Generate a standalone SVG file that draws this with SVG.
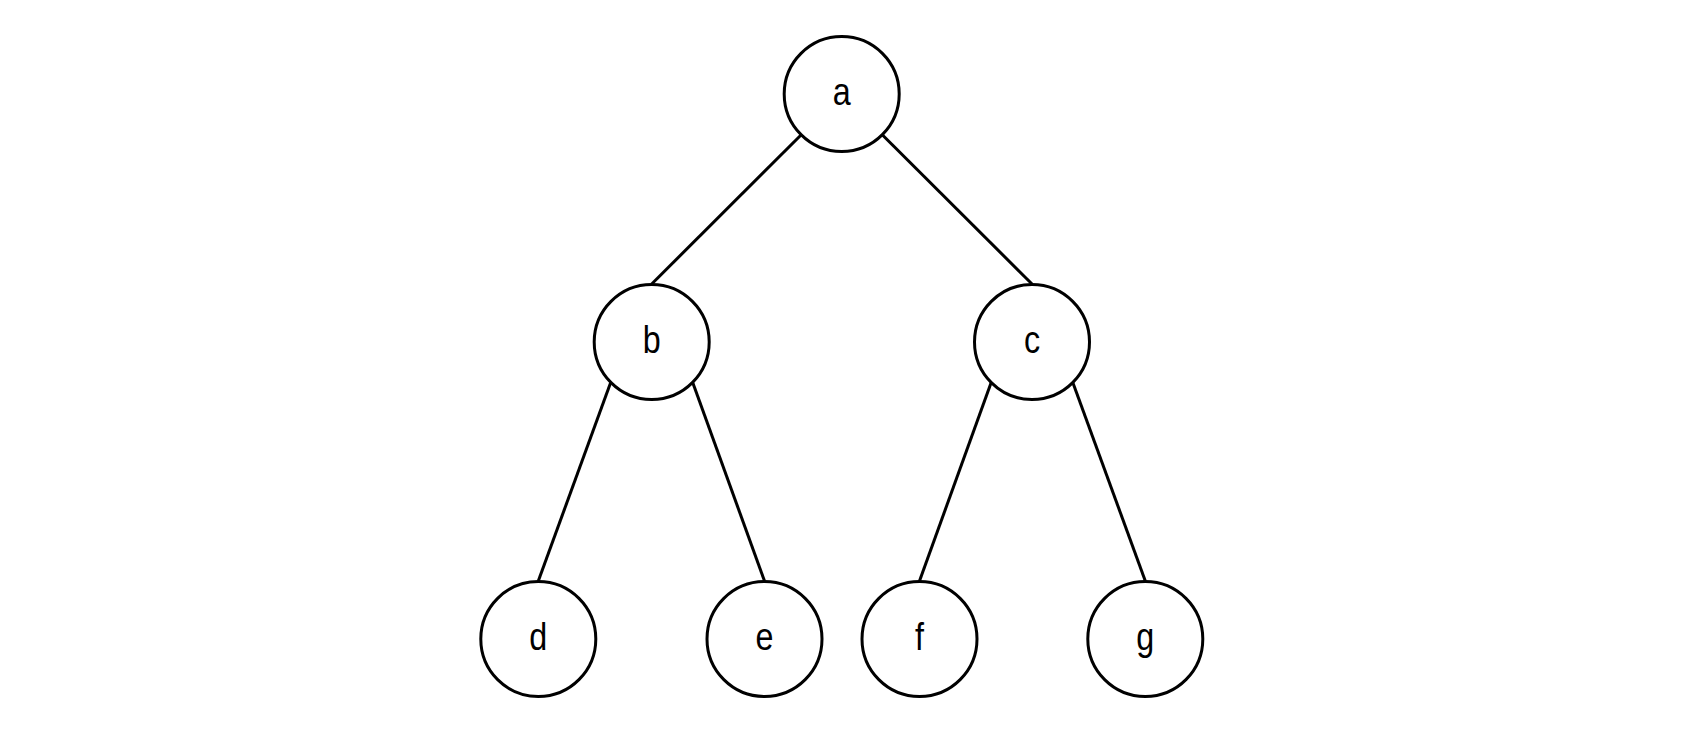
<svg xmlns="http://www.w3.org/2000/svg" width="1689" height="738" viewBox="0 0 1689 738">
<style>
.n{fill:#fff;stroke:#000;stroke-width:3}
.e{stroke:#000;stroke-width:3;fill:none}
.t{font-family:"Liberation Sans",Arial,sans-serif;font-size:38px;fill:#000;text-anchor:middle}
</style>
<rect width="1689" height="738" fill="#fff"/>
<g id="edges">
<line class="e" x1="801" y1="135" x2="651.7" y2="284"/>
<line class="e" x1="882.5" y1="135" x2="1032" y2="284"/>
<line class="e" x1="610.5" y1="383" x2="538.3" y2="581"/>
<line class="e" x1="692.9" y1="383" x2="764.5" y2="581"/>
<line class="e" x1="991" y1="383" x2="919.5" y2="581"/>
<line class="e" x1="1073" y1="383" x2="1145.3" y2="581"/>
</g>
<g id="node-a"><circle class="n" cx="841.7" cy="94" r="57.5"/><text class="t" transform="translate(841.7 105) scale(0.85 1)">a</text></g>
<g id="node-b"><circle class="n" cx="651.7" cy="342" r="57.5"/><text class="t" transform="translate(651.7 353) scale(0.85 1)">b</text></g>
<g id="node-c"><circle class="n" cx="1032" cy="342" r="57.5"/><text class="t" transform="translate(1032 353) scale(0.85 1)">c</text></g>
<g id="node-d"><circle class="n" cx="538.3" cy="639" r="57.5"/><text class="t" transform="translate(538.3 650) scale(0.85 1)">d</text></g>
<g id="node-e"><circle class="n" cx="764.5" cy="639" r="57.5"/><text class="t" transform="translate(764.5 650) scale(0.85 1)">e</text></g>
<g id="node-f"><circle class="n" cx="919.5" cy="639" r="57.5"/><text class="t" transform="translate(919.5 650) scale(0.85 1)">f</text></g>
<g id="node-g"><circle class="n" cx="1145.3" cy="639" r="57.5"/><text class="t" transform="translate(1145.3 650) scale(0.85 1)">g</text></g>
</svg>
